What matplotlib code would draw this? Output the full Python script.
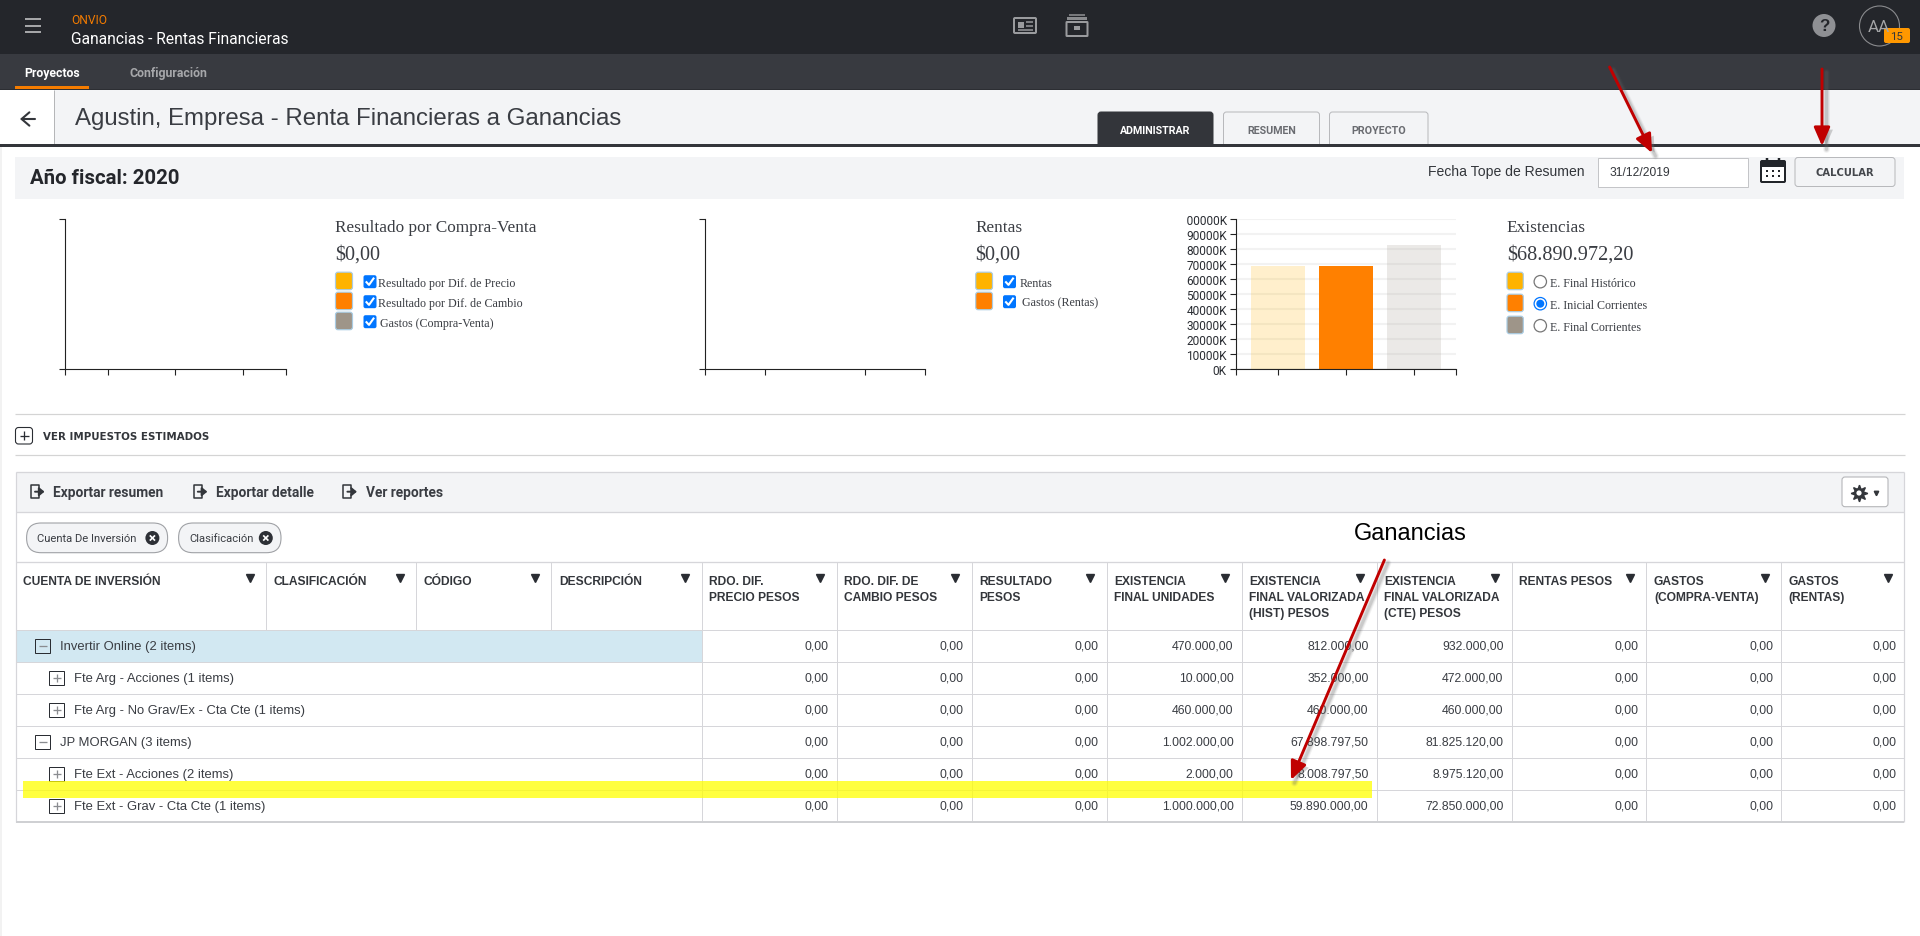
#!/usr/bin/env python3
"""Onvio 'Rentas Financieras' screen: three small bar charts and the summary table."""

import matplotlib
matplotlib.use("Agg")
import matplotlib.pyplot as plt

from matplotlib.patches import Circle, FancyArrowPatch, FancyBboxPatch, Rectangle
from matplotlib.patheffects import SimplePatchShadow, Normal
from matplotlib.transforms import Bbox

W, H = 1920, 937

# charts
ventas_labels = ["Resultado por Dif. de Precio", "Resultado por Dif. de Cambio", "Gastos (Compra-Venta)"]
ventas_values = [0, 0, 0]
rentas_labels = ["Rentas", "Gastos (Rentas)"]
rentas_values = [0, 0]
exist_labels = ["E. Final Histórico", "E. Inicial Corrientes", "E. Final Corrientes"]
exist_values = [68710797.5, 68890972.2, 82757120.0]
exist_ticks = [0, 10000, 20000, 30000, 40000, 50000, 60000, 70000, 80000, 90000, 100000]

# table
headers = [
    "CUENTA DE INVERSIÓN", "CLASIFICACIÓN", "CÓDIGO", "DESCRIPCIÓN",
    "RDO. DIF.\nPRECIO PESOS", "RDO. DIF. DE\nCAMBIO PESOS", "RESULTADO\nPESOS",
    "EXISTENCIA\nFINAL UNIDADES", "EXISTENCIA\nFINAL VALORIZADA\n(HIST) PESOS",
    "EXISTENCIA\nFINAL VALORIZADA\n(CTE) PESOS", "RENTAS PESOS",
    "GASTOS\n(COMPRA-VENTA)", "GASTOS\n(RENTAS)",
]
row_names = [
    "Invertir Online (2 items)", "Fte Arg - Acciones (1 items)",
    "Fte Arg - No Grav/Ex - Cta Cte (1 items)", "JP MORGAN (3 items)",
    "Fte Ext - Acciones (2 items)", "Fte Ext - Grav - Cta Cte (1 items)",
]
row_levels = [0, 1, 1, 0, 1, 1]
rdo_precio = ["0,00"] * 6
rdo_cambio = ["0,00"] * 6
resultado = ["0,00"] * 6
unidades = ["470.000,00", "10.000,00", "460.000,00", "1.002.000,00", "2.000,00", "1.000.000,00"]
valor_hist = ["812.000,00", "352.000,00", "460.000,00", "67.898.797,50", "8.008.797,50", "59.890.000,00"]
valor_cte = ["932.000,00", "472.000,00", "460.000,00", "81.825.120,00", "8.975.120,00", "72.850.000,00"]
rentas = ["0,00"] * 6
gastos_cv = ["0,00"] * 6
gastos_rentas = ["0,00"] * 6
table_columns = [rdo_precio, rdo_cambio, resultado, unidades, valor_hist, valor_cte, rentas, gastos_cv, gastos_rentas]

AMBER, ORANGE, TAUPE = "#ffb300", "#ff8000", "#9e9589"
SWATCHES = [AMBER, ORANGE, TAUPE]
BLUE = "#0075ff"
GRID = "#d6d6da"
PANEL = "#f3f4f6"
INK = "#33363b"
RED = "#c00000"

SANS = "Liberation Sans"
SERIF = "Liberation Serif"
UI = "Roboto"

fig = plt.figure(figsize=(W / 100, H / 100), dpi=100, facecolor="white")
ax = fig.add_axes([0, 0, 1, 1], zorder=0)
ax.set_xlim(0, W)
ax.set_ylim(H, 0)
ax.axis("off")


def txt(x, y, s, size, color=INK, family=SANS, weight="normal", ha="left", va="center"):
    return ax.text(x, y + 1, s, fontsize=size * 0.72, color=color, family=family, weight=weight, ha=ha, va=va, zorder=5)


def box(x0, y0, x1, y1, face, edge="none", lw=0, zorder=1, alpha=None):
    patch = Rectangle((x0, y0), x1 - x0, y1 - y0, facecolor=face, edgecolor=edge,
                      linewidth=lw * 0.72, zorder=zorder, alpha=alpha)
    ax.add_patch(patch)
    return patch


def rbox(x0, y0, x1, y1, radius, face, edge="none", lw=1.0, zorder=2):
    patch = FancyBboxPatch((x0, y0), x1 - x0, y1 - y0, boxstyle=f"round,pad=0,rounding_size={radius}",
                           facecolor=face, edgecolor=edge, linewidth=lw * 0.72, zorder=zorder)
    ax.add_patch(patch)
    return patch


def line(xs, ys, color=GRID, lw=1.0, zorder=2, **kw):
    ax.plot(xs, ys, color=color, linewidth=lw * 0.72, zorder=zorder, solid_capstyle="butt", **kw)


def red_arrow(start, end):
    # soft grey shadow under the shaft, patch shadows only fill the head
    for width, alpha in ((7, 0.08), (5, 0.12), (3, 0.18)):
        ax.plot([start[0] + 3.5, end[0] + 3.5], [start[1] + 3, end[1] + 3], color="#666666",
                linewidth=width * 0.72, alpha=alpha, zorder=7, solid_capstyle="round")
    arrow = FancyArrowPatch(start, end, arrowstyle="-|>,head_length=0.62,head_width=0.27", mutation_scale=18,
                            shrinkA=0, shrinkB=0, color=RED, linewidth=2.1, zorder=8)
    arrow.set_path_effects([
        SimplePatchShadow(offset=(3.0, -2.0), shadow_rgbFace="#666666", alpha=0.3),
        Normal(),
    ])
    ax.add_patch(arrow)


# top bars
box(0, 0, W, 55, "#24262b")
box(0, 55, W, 90, "#383a40")
box(0, 90, W, 91, "#2c2e33")
box(15, 87, 89, 90, "#f57c00", zorder=2)
for y in (20, 27, 33):
    line([24.5, 41], [y, y], color="#a5a6a8", lw=2)
txt(71, 20, "ONVIO", 12, color="#f57c00", family=UI)
txt(71, 38, "Ganancias - Rentas Financieras", 15.6, color="#ffffff", family=UI)
txt(24.5, 72.5, "Proyectos", 12.2, color="#ffffff", family=UI, weight="bold")
txt(129, 72.5, "Configuración", 12.4, color="#a6a7aa", family=UI, weight="bold")

# icons in the dark bar
rbox(1014, 19, 1036, 34, 1, "none", edge="#9a9b9e", lw=2)
box(1018, 23, 1024, 29, "#9a9b9e", zorder=3)
line([1026, 1033], [23, 23], color="#9a9b9e", lw=1.5, zorder=3)
line([1026, 1033], [27, 27], color="#9a9b9e", lw=1.5, zorder=3)
line([1018, 1033], [31, 31], color="#9a9b9e", lw=1.5, zorder=3)
box(1069, 15, 1085, 17, "#77787b", zorder=3)
box(1067, 18, 1087, 21, "#8a8b8e", zorder=3)
rbox(1066.5, 23, 1087.5, 37, 0.5, "none", edge="#9a9b9e", lw=2)
box(1074, 27, 1080, 31, "#9a9b9e", zorder=3)

ax.add_patch(Circle((1824, 26.5), 11.5, facecolor="#8f9094", zorder=3))
txt(1824, 25.5, "?", 17, color="#24262b", weight="bold", ha="center")
ax.add_patch(Circle((1879.5, 27), 20, facecolor="none", edgecolor="#8a8b8e", linewidth=0.8, zorder=3))
txt(1879, 26, "AA", 17, color="#a5a6a8", family=UI, ha="center")
rbox(1884, 29, 1910, 44, 2, "#ff9800", zorder=4)
txt(1897, 36, "15", 11.5, color="#33363b", family=UI, ha="center").set_zorder(6)

# page title bar
box(0, 91, W, 145, PANEL)
box(0, 91, 54, 145, "#ffffff", zorder=2)
line([54, 54], [91, 145], color="#b5b6b8", zorder=3)
box(0, 144.7, W, 147.7, "#33353a", zorder=4)
ax.annotate("", xy=(20, 120), xytext=(35, 120), zorder=3,
            arrowprops=dict(arrowstyle="->,head_length=0.35,head_width=0.3", color=INK, lw=1.5,
                            shrinkA=0, shrinkB=0, mutation_scale=16))
txt(75, 117.5, "Agustin, Empresa - Renta Financieras a Ganancias", 24, color="#3a3d43")

tab_names = ["ADMINISTRAR", "RESUMEN", "PROYECTO"]
tab_edges = [(1098, 1213), (1223.5, 1319.5), (1329.5, 1428)]
for i, (name, (x0, x1)) in enumerate(zip(tab_names, tab_edges)):
    active = i == 0
    rbox(x0, 113, x1, 150, 3, "#33353a" if active else PANEL,
         edge="#33353a" if active else "#b8b9bc", zorder=2)
    txt((x0 + x1) / 2, 130, name, 10.6, color="#ffffff" if active else "#6a6c71", family=UI, weight="bold", ha="center")
box(1090, 147.7, 1440, 158, "#ffffff", zorder=3)

# fiscal year strip
box(15, 158, 1904, 200, PANEL)
txt(30, 177.5, "Año fiscal: 2020", 20.4, color="#24262b", family=UI, weight="bold")
txt(1428, 171, "Fecha Tope de Resumen", 14, color=INK)
box(1598, 158.5, 1748, 187.5, "#ffffff", edge="#c4c5c8", lw=1, zorder=3)
txt(1609, 172, "31/12/2019", 12, color=INK)
rbox(1795, 158.5, 1895, 187.5, 3, PANEL, edge="#b8b9bc")
txt(1844.5, 172.5, "CALCULAR", 10, color="#44474c", family="DejaVu Sans", weight="bold", ha="center")

# calendar icon
rbox(1761, 162, 1785, 183, 1, "#ffffff", edge="#22252a", lw=2, zorder=3)
box(1761, 162, 1785, 168, "#22252a", zorder=4)
line([1767, 1767], [159, 164], color="#22252a", lw=2.5, zorder=4)
line([1779, 1779], [159, 164], color="#22252a", lw=2.5, zorder=4)
for dot_y in (172, 177):
    for dot_x in (1767, 1773, 1779):
        box(dot_x - 1.2, dot_y - 1.2, dot_x + 1.2, dot_y + 1.2, "#22252a", zorder=4)

red_arrow((1609.6, 68), (1652, 154))
red_arrow((1822, 70), (1822, 147))


def chart_axes(x0, x1, pad, n):
    chart = fig.add_axes([x0 / W, 1 - 370.3 / H, (x1 - x0) / W, 150.3 / H], zorder=1)
    chart.patch.set_alpha(0)
    for side in ("top", "right"):
        chart.spines[side].set_visible(False)
    for side in ("left", "bottom"):
        chart.spines[side].set_color("#222222")
        chart.spines[side].set_linewidth(0.8)
    left, right = -pad, n - 1 + pad
    chart.set_xlim(left, right)
    chart.set_xticks([left] + list(range(n)) + [right])
    chart.set_xticklabels([])
    chart.tick_params(axis="both", length=4.3, width=0.8, color="#222222")
    return chart


# empty charts, all values are zero
chart_a = chart_axes(65.4, 285.5, 0.62, 3)
chart_a.bar(range(3), ventas_values, width=0.79, color=SWATCHES)
chart_a.set_ylim(0, 1)
chart_a.set_yticks([0, 1])
chart_a.set_yticklabels([])

chart_b = chart_axes(705.4, 925.4, 0.6, 2)
chart_b.bar(range(2), rentas_values, width=0.79, color=SWATCHES[:2])
chart_b.set_ylim(0, 1)
chart_b.set_yticks([0, 1])
chart_b.set_yticklabels([])

chart_c = chart_axes(1236.3, 1456, 0.62, 3)
chart_c.set_ylim(0, exist_ticks[-1] * 1000)
chart_c.set_yticks([t * 1000 for t in exist_ticks])
chart_c.set_yticklabels([f"{t}K" for t in exist_ticks], fontsize=11.9 * 0.72, family=UI, color="#2a2d33")
chart_c.tick_params(axis="y", pad=2.5)
chart_c.grid(True, axis="y", color="#f2f2f2", linewidth=1.5, zorder=0)
chart_c.set_axisbelow(True)
bars = chart_c.bar(range(3), exist_values, width=0.794, color=[AMBER, ORANGE, TAUPE])
bars[0].set_alpha(0.2)
bars[2].set_alpha(0.2)
# long tick labels are cut off on the left, like the svg viewport does
label_clip = Bbox([[1186, H - 376], [1232, H - 212]])
for label in chart_c.get_yticklabels():
    label.set_clip_on(True)
    label.set_clip_box(label_clip)


def legend_head(x, title, value):
    txt(x, 227, title, 17.2, family=SERIF, color="#3a3d43")
    txt(x, 254.5, value, 20.3, family=SERIF, color="#3a3d43")


def swatch(x0, x1, y0, y1, color):
    rbox(x0, y0, x1, y1, 2.5, color, edge="#a9cce3", lw=1.2)


def checkbox(x, y):
    rbox(x, y - 6.5, x + 13, y + 6.5, 2, BLUE, zorder=3)
    ax.plot([x + 3, x + 5.5, x + 10], [y + 0.5, y + 3.2, y - 3.2], color="white", linewidth=1.5, zorder=4)


legend_head(335, "Resultado por Compra-Venta", "$0,00")
for i, (label, color) in enumerate(zip(ventas_labels, SWATCHES)):
    y = 282.7 + 20 * i
    swatch(335.5, 352.5, y - 9.5, y + 8, color)
    checkbox(363.5, y)
    txt(378 if i < 2 else 379.5, y, label, 12, family=SERIF, color="#3a3d43")

legend_head(975, "Rentas", "$0,00")
for i, (label, color) in enumerate(zip(rentas_labels, SWATCHES)):
    y = 282.7 + 20 * i
    swatch(975.7, 992.5, y - 9.5, y + 8, color)
    checkbox(1003, y)
    txt(1020 if i == 0 else 1022, y, label, 12, family=SERIF, color="#3a3d43")

legend_head(1506.7, "Existencias", "$68.890.972,20")
for i, (label, color) in enumerate(zip(exist_labels, SWATCHES)):
    y = 282.7 + 22 * i
    swatch(1507, 1523.3, y - 9.5, y + 8, color)
    if i == 1:
        ax.add_patch(Circle((1540.3, y), 6.2, facecolor="white", edgecolor=BLUE, linewidth=0.9, zorder=3))
        ax.add_patch(Circle((1540.3, y), 4, facecolor=BLUE, zorder=4))
    else:
        ax.add_patch(Circle((1540.3, y), 6.2, facecolor="white", edgecolor="#767676", linewidth=0.9, zorder=3))
    txt(1549.5 if i == 1 else 1550.3, y, label, 12, family=SERIF, color="#3a3d43")

# taxes expander
line([15, 1905], [415.3, 415.3], color="#d4d4d4", lw=1.2)
line([15, 1905], [455.7, 455.7], color="#d4d4d4", lw=1.2)
rbox(15.5, 428.5, 32.5, 445, 3, "white", edge="#2a2d33", lw=1.1)
line([19.5, 28.5], [436.7, 436.7], color="#2a2d33", lw=1.3, zorder=3)
line([24, 24], [432.2, 441.2], color="#2a2d33", lw=1.3, zorder=3)
txt(43, 435.7, "VER IMPUESTOS ESTIMADOS", 10.2, color="#33363b", family="DejaVu Sans", weight="bold")

# table frame
col_x = [15.6, 266.3, 416.4, 551.4, 701.6, 836.5, 971.5, 1106.6, 1241.7, 1376.6, 1511.5, 1646.4, 1781.2, 1904.3]
row_y = [630.7, 662.7, 694.7, 726.7, 758.7, 790.7, 822.7]

box(15.6, 473, 1904.3, 513.3, PANEL)
line([15.6, 1904.3], [473, 473], lw=1.3)
line([15.6, 1904.3], [513.3, 513.3], lw=1.3)
line([15.6, 1904.3], [563.3, 563.3], lw=1.3)
line([15.6, 15.6], [473, 822.7], lw=1.2)
line([1904.3, 1904.3], [473, 822.7], lw=1.2)
box(15.6, 631, 701.6, 662.7, "#d2e8f2")

for x in col_x[1:-1]:
    line([x, x], [563.3, 630.7])
for x in col_x[4:-1]:
    line([x, x], [630.7, 822.7])
for y in row_y[:-1]:
    line([15.6, 1904.3], [y, y])
line([15.6, 1904.3], [822.7, 822.7], color="#cfd0d3", lw=2)

# toolbar
tool_names = ["Exportar resumen", "Exportar detalle", "Ver reportes"]
tool_icon_x = [31, 193.8, 343.4]
tool_text_x = [52.8, 215.8, 365.5]
for name, ix, tx in zip(tool_names, tool_icon_x, tool_text_x):
    ax.plot([ix + 8, ix + 8, ix, ix, ix + 8, ix + 8], [489, 486, 486, 499, 499, 496], color="#33363b", linewidth=1.1, zorder=3)
    ax.annotate("", xy=(ix + 13.5, 492.7), xytext=(ix + 4, 492.7), zorder=3,
                arrowprops=dict(arrowstyle="-|>,head_length=0.3,head_width=0.25", color="#33363b", lw=1.4,
                                shrinkA=0, shrinkB=0, mutation_scale=10))
    txt(tx, 492, name, 13.7, color="#3a3d43", family=UI, weight="bold")

rbox(1842, 478, 1888, 507.7, 3, "#ffffff", edge="#b5b6b9", lw=1.1)
ax.plot([1859], [494], marker=(8, 1, 0), markersize=12, color="#33363b", zorder=3)
ax.add_patch(Circle((1859, 494), 5, facecolor="#33363b", zorder=3))
ax.add_patch(Circle((1859, 494), 2.6, facecolor="#ffffff", zorder=4))
ax.plot([1875.7], [494], marker="v", markersize=3.2, color="#33363b", zorder=3)

# filter chips
chip_names = ["Cuenta De Inversión", "Clasificación"]
chip_edges = [(26.6, 167.6), (178.6, 281)]
chip_text_x = [37, 189.6]
chip_close_x = [152.4, 265.8]
for name, (x0, x1), tx, cx in zip(chip_names, chip_edges, chip_text_x, chip_close_x):
    rbox(x0, 524, x1, 553.7, 14.5, PANEL, edge="#9fa1a5", lw=1.1)
    txt(tx, 538.3, name, 11.2, color="#3a3d43", family=UI)
    ax.add_patch(Circle((cx, 539), 7, facecolor="#2d3036", zorder=3))
    line([cx - 2.6, cx + 2.6], [536.4, 541.6], color="white", lw=1.7, zorder=4)
    line([cx - 2.6, cx + 2.6], [541.6, 536.4], color="white", lw=1.7, zorder=4)

txt(1353.6, 533.5, "Ganancias", 23.6, color="#000000")

# header cells
for i, header in enumerate(headers):
    for j, part in enumerate(header.split("\n")):
        txt(col_x[i] + 7.6, 580.7 + 16 * j, part, 12, color="#33363b", weight="bold")
    ax.plot([col_x[i + 1] - 16.5], [579.3], marker="v", markersize=6, color="#2a2d33", zorder=3)

# body rows
for r, (name, level) in enumerate(zip(row_names, row_levels)):
    y0, y1 = row_y[r], row_y[r + 1]
    yc = (y0 + y1) / 2
    bx = 35 if level == 0 else 49
    box(bx, yc - 7, bx + 15, yc + 7, "none", edge="#2a2d33", lw=1, zorder=3)
    line([bx + 3.5, bx + 11.5], [yc, yc], color="#8a8c90", lw=1.3, zorder=3)
    if level == 1:
        line([bx + 7.5, bx + 7.5], [yc - 4, yc + 4], color="#8a8c90", lw=1.3, zorder=3)
    txt(bx + 24.7, yc - 0.5, name, 13, color="#3a3d43")
    for c, column in enumerate(table_columns):
        txt(col_x[c + 5] - 8, yc - 1.3, column[r], 12.3, color="#3a3d43", ha="right")

# highlight over row border, grid shows through
box(23, 782, 1371.8, 799, "#ffff00", alpha=0.75, zorder=6)
red_arrow((1384.4, 561), (1291, 781))

line([0.8, 0.8], [148, H], color="#eeeeee", lw=1.5)

fig.savefig("out.png", dpi=100)
plt.close(fig)
